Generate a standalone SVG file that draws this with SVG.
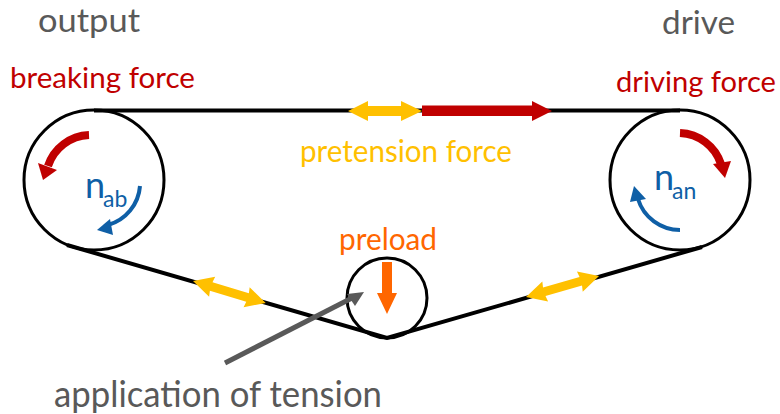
<svg xmlns="http://www.w3.org/2000/svg" width="780" height="414" viewBox="0 0 780 414">
<style>
text{font-family:"Lato","Open Sans","Liberation Sans",sans-serif}
.pulley{fill:#fff;stroke:#000;stroke-width:3}
.belt{fill:none;stroke:#000;stroke-width:4}
.gray{fill:#595959;font-size:36px}
.top{fill:#595959;font-size:32px}
.red{fill:#C00000;font-size:29.500px}
.yel{fill:#FFC000;font-size:31px}
.org{fill:#FF6600;font-size:30px}
.blue{fill:#0F5FA6}
.rarc{fill:none;stroke:#C00000;stroke-width:8}
.barc{fill:none;stroke:#0F5FA6;stroke-width:4}
</style>
<defs>
<polygon id="dbl" fill="#FFC000" points="0,0 20,-10.500 19,-4.500 57,-4.500 56,-10.500 76,0 56,10.500 57,4.500 19,4.500 20,10.500"/>
</defs>
<rect width="780" height="414" fill="#fff"/>
<g id="pulley-output"><circle class="pulley" cx="94" cy="180" r="70"/></g>
<g id="pulley-drive"><circle class="pulley" cx="680" cy="180" r="70"/></g>
<g id="pulley-tension"><circle class="pulley" cx="387" cy="298" r="40"/></g>
<g id="connectors">
<path class="belt" d="M94,110.5H680"/>
<path class="belt" d="M67,245L387,338L702,247"/>
<polygon fill="#FFC000" points="348,111 368,101 368,106 401,106 401,101 422,111 401,121 401,116 368,116 368,121"/>
<polygon fill="#C00000" points="422,105.5 532,105.5 532,101 552,111 532,121 532,116 422,116"/>
<use href="#dbl" transform="translate(193,281) rotate(16.800)"/>
<use href="#dbl" transform="translate(526,297) rotate(-16)"/>
<polygon fill="#FF6600" points="382,262 392,262 392,293 397,293 387,314 377,293 382,293"/>
<path d="M225,363L352,298" fill="none" stroke="#595959" stroke-width="5"/>
<polygon fill="#595959" points="364,292 347,294 355,306"/>
<path class="rarc" d="M89,135A45,45 0 0 0 48,166"/>
<polygon fill="#C00000" points="43,180 38,163 57,170"/>
<path class="rarc" d="M680,133A45,45 0 0 1 721,164"/>
<polygon fill="#C00000" points="725,178 713,164 731,161"/>
<path class="barc" d="M140,186A44,44 0 0 1 108,225"/>
<polygon class="blue" points="97,230 110,219 113,235"/>
<path class="barc" d="M680,230A44,44 0 0 1 638,199"/>
<polygon class="blue" points="634,186 630,202 646,199"/>
</g>
<g id="labels">
<text class="top" x="38" y="32" textLength="102" lengthAdjust="spacingAndGlyphs">output</text>
<text class="top" x="662" y="34" textLength="73" lengthAdjust="spacingAndGlyphs">drive</text>
<text class="red" x="10" y="88" textLength="185" lengthAdjust="spacingAndGlyphs">breaking force</text>
<text class="red" x="616" y="92" textLength="160" lengthAdjust="spacingAndGlyphs">driving force</text>
<text class="yel" x="300" y="162" textLength="212" lengthAdjust="spacingAndGlyphs">pretension force</text>
<text class="org" x="339" y="250" textLength="98" lengthAdjust="spacingAndGlyphs">preload</text>
<text class="gray" x="54" y="407" textLength="328" lengthAdjust="spacingAndGlyphs">application of tension</text>
<text class="blue" x="85" y="198" font-size="36">n</text>
<text class="blue" x="103" y="207" font-size="23">ab</text>
<text class="blue" x="654" y="190" font-size="36">n</text>
<text class="blue" x="672" y="199" font-size="23">an</text>
</g>
</svg>
